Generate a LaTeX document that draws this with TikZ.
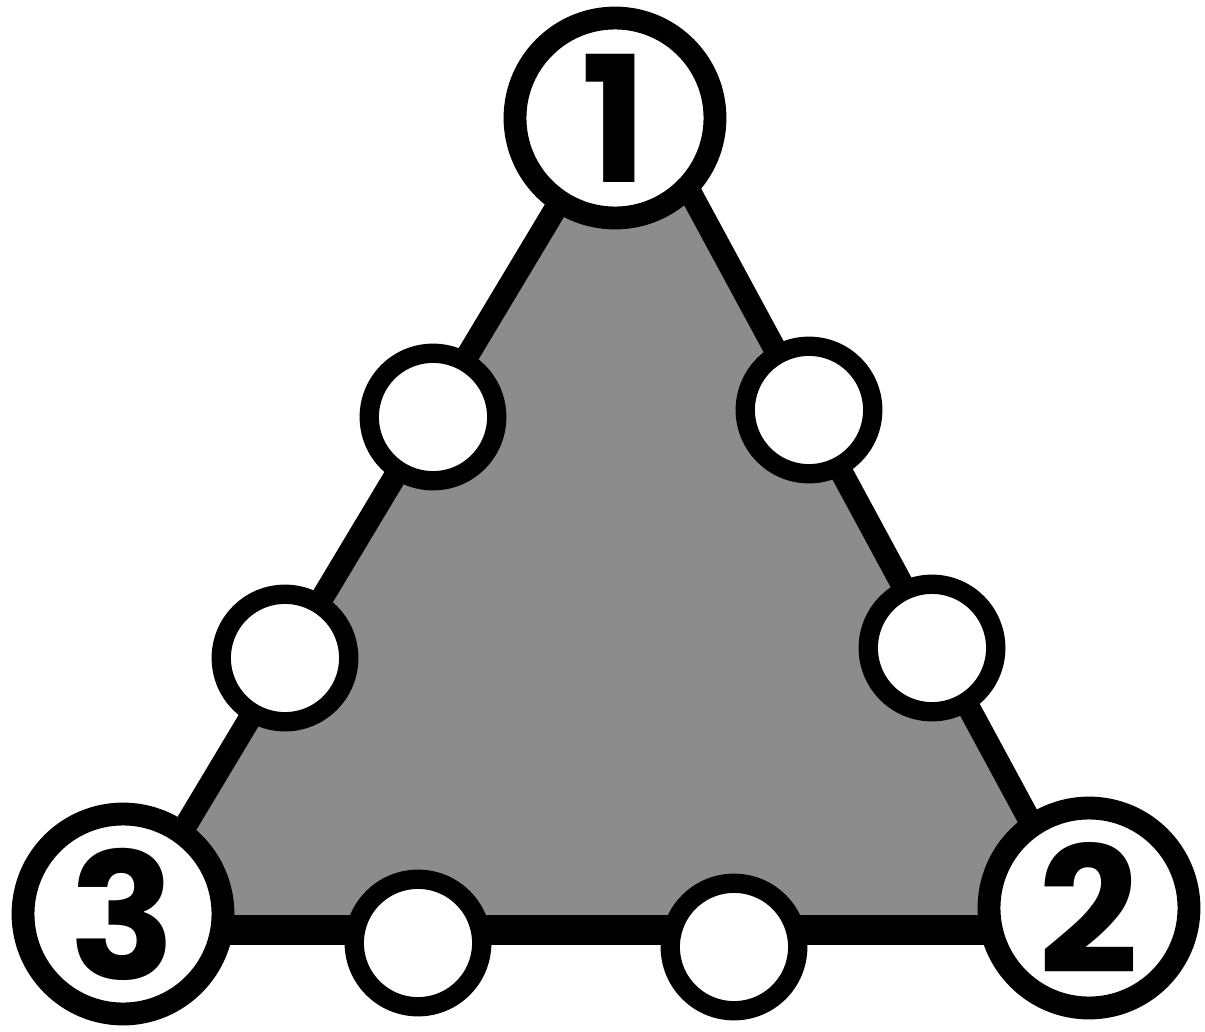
\documentclass[tikz,border=0pt]{standalone}
\usepackage{fontspec}
\setsansfont{Poppins}
\usepackage{tikz}
\usetikzlibrary{positioning}
\tikzstyle{corner} = [circle, draw=black, fill=white, line width=13pt, minimum size=4.0cm, inner sep=0pt, font=\sffamily\bfseries\fontsize{100}{100}\selectfont]
\tikzstyle{spot} = [circle, draw=black, fill=white, line width=11pt, minimum size=2.55cm, inner sep=0pt]
\tikzstyle{edge} = [line width=13pt, line join=round, color=black]

\begin{document}
\begin{tikzpicture}[x=0.02cm, y=-0.02cm]
    \useasboundingbox (0,0) rectangle (1205,1032);

    % Triangle
    \coordinate (tl) at (610,118);
    \coordinate (tr) at (650,118);
    \coordinate (bl) at (123,930);
    \coordinate (br) at (1089,930);
    \filldraw[edge, fill=black!45] (bl) -- (tl) -- (tr) -- (br) -- cycle;
    \draw[edge, line width=17pt] (bl) -- (br);

    % Corner circles
    \node[corner] (one) at (615,118) {1};
    \node[corner] (two) at (1089,908) {2};
    \node[corner] (three) at (123,914) {3};

    % Empty circles
    \node[spot] (leftup) at (433,417) {};
    \node[spot] (leftlow) at (285,658) {};
    \node[spot] (rightup) at (809,410) {};
    \node[spot] (rightlow) at (932,648) {};
    \node[spot] (botleft) at (418,943) {};
    \node[spot] (botright) at (734,947) {};
\end{tikzpicture}
\end{document}
